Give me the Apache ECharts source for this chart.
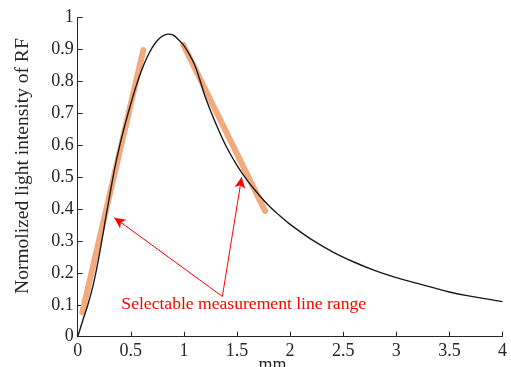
<!DOCTYPE html>
<html>
<head>
<meta charset="utf-8">
<script src="https://cdn.jsdelivr.net/npm/echarts@6/dist/echarts.min.js"></script>
<style>html,body{margin:0;padding:0;background:#fff}#c{width:511px;height:367px}</style>
</head>
<body>
<div id="c"></div>
<script>
// Main curve (x in mm, normalized intensity)
var curveX = [0,0.05,0.1,0.15,0.2,0.25,0.3,0.35,0.4,0.45,0.5,0.55,0.6,0.65,0.7,0.75,0.8,0.85,0.9,0.95,1.0,1.05,1.1,1.15,1.2,1.3,1.4,1.5,1.6,1.7,1.8,1.9,2.0,2.2,2.4,2.6,2.8,3.0,3.2,3.5,3.75,4.0];
var curveY = [0,0.053,0.105,0.168,0.25,0.345,0.44,0.53,0.605,0.67,0.73,0.785,0.833,0.873,0.905,0.928,0.942,0.948,0.945,0.93,0.912,0.885,0.853,0.805,0.752,0.668,0.595,0.537,0.488,0.447,0.41,0.38,0.352,0.305,0.266,0.234,0.207,0.185,0.167,0.14,0.124,0.11];
// Selectable measurement lines (orange)
var rangeLine1 = [[0.043,0.076],[0.618,0.898]];
var rangeLine2 = [[0.995,0.914],[1.764,0.394]];
// Annotation arrows: from label point to targets
var arrowFrom = [1.362,0.126];
var arrowTo = [[0.345,0.373],[1.544,0.5]];
var annotationText = 'Selectable measurement line range';
var xTicks = {min:0,max:4,interval:0.5};
var yTicks = {min:0,max:1,interval:0.1};

var font = 'Liberation Serif, Times New Roman, serif';
var axisColor = '#262626';
var chart = echarts.init(document.getElementById('c'));
var curve = curveX.map(function(x,i){return [x,curveY[i]];});
var orange = '#F3AA7D';
chart.setOption({
  animation:false,
  grid:{left:77.7,right:8.5,top:17.5,bottom:30.3,containLabel:false,outerBoundsMode:'none'},
  xAxis:{type:'value',min:xTicks.min,max:xTicks.max,interval:xTicks.interval,
    name:'mm',nameLocation:'middle',nameGap:20,nameMoveOverlap:false,
    nameTextStyle:{fontFamily:font,fontSize:18,color:axisColor,padding:[0,35,0,0]},
    axisLine:{lineStyle:{color:axisColor,width:1}},
    axisTick:{inside:true,length:5,lineStyle:{color:axisColor}},
    axisLabel:{fontFamily:font,fontSize:18,color:axisColor,margin:6},
    splitLine:{show:false}},
  yAxis:{type:'value',min:yTicks.min,max:yTicks.max,interval:yTicks.interval,
    name:'Normolized light intensity of RF',nameLocation:'middle',nameGap:45,nameMoveOverlap:false,
    nameTextStyle:{fontFamily:font,fontSize:19.5,color:axisColor,padding:[0,0,0,22]},
    axisLine:{show:true,lineStyle:{color:axisColor,width:1}},
    axisTick:{show:true,inside:true,length:5,lineStyle:{color:axisColor}},
    axisLabel:{fontFamily:font,fontSize:18,color:axisColor,margin:4},
    splitLine:{show:false}},
  series:[
    {type:'line',data:rangeLine1,symbol:'none',lineStyle:{color:orange,width:6,cap:'round'},z:1},
    {type:'line',data:rangeLine2,symbol:'none',lineStyle:{color:orange,width:6,cap:'round'},z:1},
    {type:'line',data:curve,symbol:'none',smooth:0.4,lineStyle:{color:'#1a1a1a',width:1.4},z:2,
      markLine:{silent:true,symbol:['none','arrow'],symbolSize:[8,11],
        lineStyle:{color:'#ff0000',width:1,type:'solid'},label:{show:false},
        data:arrowTo.map(function(t){return [{coord:arrowFrom},{coord:t}];})}}
  ]
});
var p = chart.convertToPixel({gridIndex:0},arrowFrom);
chart.setOption({graphic:[{type:'text',left:p[0]-101,top:p[1]-1,
  style:{text:annotationText,fill:'#ff0000',font:'17.6px '+font}}]});
</script>
</body>
</html>
